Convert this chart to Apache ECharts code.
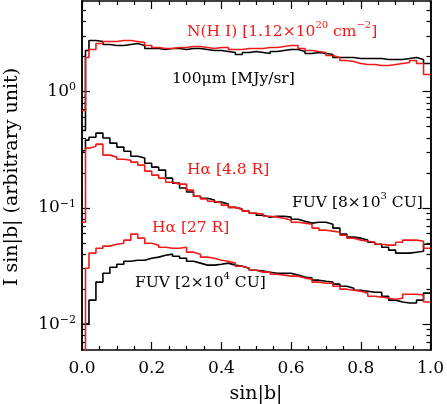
<!DOCTYPE html>
<html><head><meta charset="utf-8">
<script src="https://cdn.jsdelivr.net/npm/echarts@6/dist/echarts.min.js"></script>
<style>html,body{margin:0;padding:0;background:#fff}#c{width:447px;height:404px}</style>
</head><body><div id="c"></div>
<script>
// bin left edges: first two bins 0.01 wide, the rest 0.02 wide
const binLeft = [0, 0.01].concat(Array.from({length: 49}, (_, i) => +(0.02 * (i + 1)).toFixed(2)));
const xEnd = 1.0;

const ir100 = [0.462, 2.251, 2.745, 2.691, 2.536, 2.486, 2.486, 2.536, 2.586, 2.486, 2.342, 2.342, 2.296, 2.342, 2.342, 2.296, 2.342, 2.342, 2.296, 2.251, 2.251, 2.207, 2.164, 2.080, 2.164, 2.207, 2.164, 2.121, 2.207, 2.251, 2.296, 2.296, 2.207, 2.121, 2.164, 2.121, 2.080, 1.960, 1.960, 1.960, 1.921, 1.921, 1.921, 1.921, 1.884, 1.884, 1.884, 1.921, 1.960, 1.884, 1.741];
const nhi = [0.687, 1.960, 2.296, 2.586, 2.691, 2.691, 2.745, 2.745, 2.691, 2.638, 2.486, 2.389, 2.342, 2.342, 2.389, 2.389, 2.437, 2.437, 2.389, 2.342, 2.389, 2.389, 2.296, 2.296, 2.342, 2.342, 2.342, 2.389, 2.389, 2.437, 2.486, 2.486, 2.342, 2.251, 2.207, 2.164, 2.039, 1.960, 1.847, 1.811, 1.741, 1.707, 1.707, 1.673, 1.673, 1.707, 1.741, 1.775, 1.847, 1.741, 1.400];
const fuvHigh = [0.31, 0.382, 0.405, 0.439, 0.398, 0.360, 0.333, 0.307, 0.278, 0.268, 0.242, 0.224, 0.211, 0.180, 0.163, 0.148, 0.137, 0.126, 0.121, 0.117, 0.112, 0.108, 0.101, 0.0975, 0.0937, 0.090, 0.0865, 0.0832, 0.0848, 0.0848, 0.0832, 0.0799, 0.0768, 0.0739, 0.0753, 0.0753, 0.0724, 0.0669, 0.0594, 0.0560, 0.0549, 0.0528, 0.0507, 0.0487, 0.0459, 0.0433, 0.0408, 0.0408, 0.0416, 0.0424, 0.0487];
const haHigh = [0.0753, 0.326, 0.339, 0.353, 0.284, 0.273, 0.262, 0.257, 0.247, 0.233, 0.207, 0.191, 0.180, 0.166, 0.160, 0.160, 0.142, 0.126, 0.119, 0.114, 0.110, 0.1055, 0.101, 0.0975, 0.0937, 0.090, 0.0883, 0.0848, 0.0832, 0.0815, 0.0784, 0.0753, 0.0739, 0.0724, 0.0669, 0.0643, 0.0631, 0.0618, 0.0582, 0.0549, 0.0528, 0.0517, 0.0507, 0.0487, 0.0478, 0.0478, 0.0507, 0.0528, 0.0528, 0.0517, 0.0450];
const haLow = [0.004, 0.0303, 0.0408, 0.0450, 0.0469, 0.0487, 0.0497, 0.0528, 0.0594, 0.0549, 0.0497, 0.0478, 0.0459, 0.0450, 0.0450, 0.0459, 0.0416, 0.0400, 0.0377, 0.0369, 0.0355, 0.0348, 0.0335, 0.0315, 0.0303, 0.0291, 0.0280, 0.0280, 0.0269, 0.0264, 0.0259, 0.0259, 0.0249, 0.0244, 0.0230, 0.0225, 0.0225, 0.0212, 0.0200, 0.0196, 0.0192, 0.0185, 0.0174, 0.0171, 0.0167, 0.0164, 0.0167, 0.0181, 0.0181, 0.0178, 0.0155];
const fuvLow = [0.0100, 0.0102, 0.0161, 0.0230, 0.0274, 0.0309, 0.0328, 0.0348, 0.0355, 0.0355, 0.0369, 0.0377, 0.0392, 0.0400, 0.0384, 0.0369, 0.0348, 0.0335, 0.0322, 0.0322, 0.0328, 0.0335, 0.0322, 0.0315, 0.0303, 0.0291, 0.0286, 0.0280, 0.0274, 0.0274, 0.0274, 0.0264, 0.0254, 0.0249, 0.0239, 0.0234, 0.0230, 0.0221, 0.0212, 0.0204, 0.0196, 0.0192, 0.0188, 0.0188, 0.0174, 0.0161, 0.0155, 0.0152, 0.0152, 0.0161, 0.0185];

const yMajor = [0.01, 0.1, 1];
const yMinor = [0.007, 0.008, 0.009, 0.02, 0.03, 0.04, 0.05, 0.06, 0.07, 0.08, 0.09, 0.2, 0.3, 0.4, 0.5, 0.6, 0.7, 0.8, 0.9, 2, 3, 4, 5];
const xTickLabels = ['0.0', '0.2', '0.4', '0.6', '0.8', '1.0'];

const RED = '#f01a1a';
const FONT = 'DejaVu Serif';

function stepData(vals) {
  const d = binLeft.map((x, i) => [x, vals[i]]);
  d.push([xEnd, vals[vals.length - 1]]);
  return d;
}
function mkSeries(vals, color) {
  return { type: 'line', step: 'end', symbol: 'none', clip: true, animation: false,
    data: stepData(vals), lineStyle: { color: color, width: 1.6 }, itemStyle: { color: color } };
}
const axisLine = { show: true, lineStyle: { color: '#000', width: 1.5 } };
function xAx(pos, labels) {
  return { type: 'value', position: pos, min: 0, max: 1, interval: 0.2,
    axisLine: axisLine, splitLine: { show: false },
    axisTick: { show: true, inside: true, length: 8, lineStyle: { color: '#000', width: 1.2 } },
    minorTick: { show: true, splitNumber: 4, length: 4, lineStyle: { color: '#000', width: 1.2 } },
    axisLabel: labels ? { show: true, margin: 10, color: '#000', fontFamily: FONT, fontSize: 17,
      formatter: v => xTickLabels[Math.round(v / 0.2)] } : { show: false } };
}
function yAx(pos, major, labels) {
  return { type: 'log', logBase: 10, position: pos, min: 0.006, max: 6,
    axisLine: axisLine, splitLine: { show: false }, minorTick: { show: false },
    axisTick: { show: true, inside: true, length: major ? 8 : 4, customValues: major ? yMajor : yMinor,
      lineStyle: { color: '#000', width: 1.2 } },
    axisLabel: labels ? { show: true, margin: 6, customValues: yMajor, color: '#000', fontFamily: FONT, fontSize: 17,
      formatter: v => '10{s|' + String(Math.round(Math.log10(v))).replace('-', '\u2212') + '}',
      rich: { s: { fontSize: 11, fontFamily: FONT, color: '#000', verticalAlign: 'top', padding: [0, 0, 8, 0] } } } : { show: false } };
}
function txt(x, y, rich, color) {
  return { type: 'text', x: x, y: y, silent: true,
    style: { text: rich, fill: color, font: '15.5px "' + FONT + '"', verticalAlign: 'middle',
      rich: { s: { fontSize: 10, fontFamily: FONT, fill: color, padding: [0, 0, 13, 0] } } } };
}

const chart = echarts.init(document.getElementById('c'), null, { renderer: 'canvas' });
chart.setOption({
  backgroundColor: '#fff',
  animation: false,
  grid: { left: 82, right: 14, top: 1, bottom: 54, containLabel: false },
  xAxis: [xAx('bottom', true), xAx('top', false)],
  yAxis: [yAx('left', true, true), yAx('left', false, false), yAx('right', true, false), yAx('right', false, false)],
  series: [
    mkSeries(ir100, '#000'), mkSeries(nhi, RED),
    mkSeries(fuvHigh, '#000'), mkSeries(haHigh, RED),
    mkSeries(fuvLow, '#000'), mkSeries(haLow, RED)
  ],
  graphic: [
    txt(187, 32, 'N(H I) [1.12\u00d710{s|20} cm{s|\u22122}]', RED),
    txt(172, 79, '100\u03bcm [MJy/sr]', '#000'),
    txt(187, 170, 'H\u03b1 [4.8 R]', RED),
    txt(292, 203, 'FUV [8\u00d710{s|3} CU]', '#000'),
    txt(152, 228, 'H\u03b1 [27 R]', RED),
    txt(135, 283, 'FUV [2\u00d710{s|4} CU]', '#000'),
    { type: 'text', x: 256, y: 394, silent: true,
      style: { text: 'sin|b|', fill: '#000', font: '19px "' + FONT + '"', align: 'center', verticalAlign: 'middle' } },
    { type: 'text', x: 12, y: 177, rotation: Math.PI / 2, silent: true,
      style: { text: 'I sin|b| (arbitrary unit)', fill: '#000', font: '19px "' + FONT + '"', align: 'center', verticalAlign: 'middle' } }
  ]
});
</script></body></html>
